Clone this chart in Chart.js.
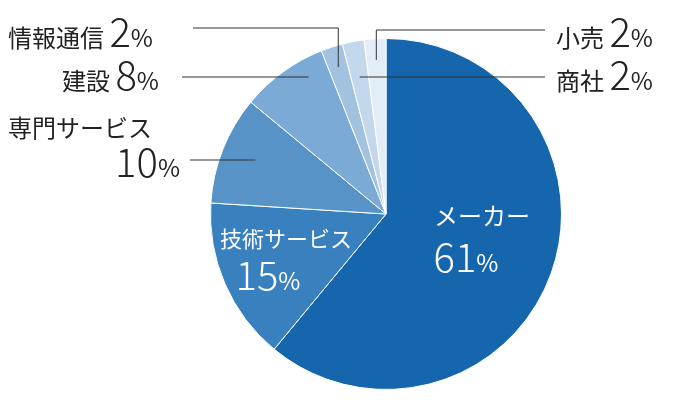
<!DOCTYPE html>
<html><head><meta charset="utf-8">
<script src="https://cdn.jsdelivr.net/npm/chart.js@4/dist/chart.umd.min.js"></script>
<style>html,body{margin:0;background:#fff}</style>
</head><body>
<canvas id="c" width="700" height="400"></canvas>
<script>
const categories = ['メーカー','技術サービス','専門サービス','建設','情報通信','商社','小売'];
const shares     = [61, 15, 10, 8, 2, 2, 2];
const colors     = ['#1666ae','#3880be','#5893c8','#7aaad5','#a3c2e0','#c3d8ec','#e3edf7'];

const JP = '"Noto Sans CJK JP", sans-serif';

// draw label made of [text, size] parts, left-aligned at x
function drawParts(ctx, parts, x, y, color, align) {
  ctx.fillStyle = color;
  ctx.textBaseline = 'alphabetic';
  ctx.textAlign = 'left';
  let w = 0;
  parts.forEach(([t, s, wt]) => { ctx.font = `${wt||400} ${s}px ${JP}`; w += ctx.measureText(t).width; });
  let cx = align === 'right' ? x - w : align === 'center' ? x - w / 2 : x;
  parts.forEach(([t, s, wt]) => {
    ctx.font = `${wt||400} ${s}px ${JP}`;
    ctx.fillText(t, cx, y);
    cx += ctx.measureText(t).width;
  });
}

function line(ctx, pts) {
  ctx.beginPath();
  ctx.moveTo(pts[0][0], pts[0][1]);
  pts.slice(1).forEach(p => ctx.lineTo(p[0], p[1]));
  ctx.stroke();
}

const labelPlugin = {
  id: 'labels',
  afterDraw(chart) {
    const ctx = chart.ctx;
    const arcs = chart.getDatasetMeta(0).data;
    // point at middle angle of arc i, at fraction f of radius
    const mid = (i, f) => {
      const a = arcs[i], ang = (a.startAngle + a.endAngle) / 2;
      return [a.x + Math.cos(ang) * a.outerRadius * f, a.y + Math.sin(ang) * a.outerRadius * f];
    };
    ctx.save();
    ctx.strokeStyle = '#333';
    ctx.lineWidth = 1;
    const p4 = mid(4, 0.88), p5 = mid(5, 0.8), p6 = mid(6, 0.88), p3 = mid(3, 0.75), p2 = mid(2, 0.8);
    line(ctx, [[193, 28], [p4[0], 28], p4]);
    line(ctx, [[182, 77], p3.slice(0, 1).concat([77])]);
    line(ctx, [[190, 160], [p2[0], 160]]);
    line(ctx, [[545, 30], [p6[0], 30], p6]);
    line(ctx, [[545, 77], [p5[0], 77]]);
    ctx.restore();

    const pct = v => [[String(v), 40, 300], ['%', 24, 400]];
    drawParts(ctx, [['情報通信 ', 24]].concat(pct(shares[4])), 8, 47, '#222');
    drawParts(ctx, [['建設 ', 24]].concat(pct(shares[3])), 62, 90, '#222');
    drawParts(ctx, [['専門サービス', 24]], 8, 137, '#222');
    drawParts(ctx, pct(shares[2]), 180, 177, '#222', 'right');
    drawParts(ctx, [['小売 ', 24]].concat(pct(shares[6])), 556, 47, '#222');
    drawParts(ctx, [['商社 ', 24]].concat(pct(shares[5])), 556, 90, '#222');
    drawParts(ctx, [[categories[0], 24]], 482, 225, '#fff', 'center');
    drawParts(ctx, pct(shares[0]), 466, 272, '#fff', 'center');
    drawParts(ctx, [[categories[1], 22]], 286, 247, '#fff', 'center');
    drawParts(ctx, pct(shares[1]), 268, 290, '#fff', 'center');
  }
};

new Chart(document.getElementById('c'), {
  type: 'pie',
  data: {
    labels: categories,
    datasets: [{ data: shares, backgroundColor: colors, borderColor: '#fff', borderWidth: 1 }]
  },
  options: {
    responsive: false,
    animation: false,
    layout: { padding: { left: 210, right: 138, top: 38, bottom: 10 } },
    plugins: { legend: { display: false }, tooltip: { enabled: false } }
  },
  plugins: [labelPlugin]
});
</script>
</body></html>
